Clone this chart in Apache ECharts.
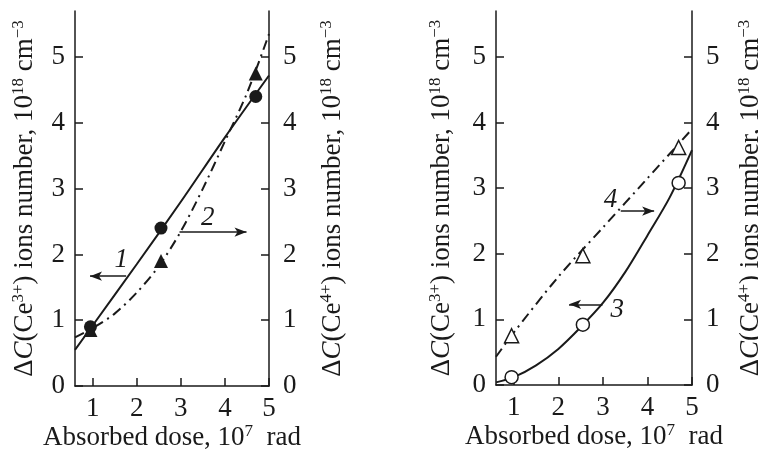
<!DOCTYPE html>
<html>
<head>
<meta charset="utf-8">
<script src="https://cdn.jsdelivr.net/npm/echarts@6/dist/echarts.min.js"></script>
<style>
  html, body { margin: 0; padding: 0; background: #fff; }
  #chart { width: 758px; height: 449px; }
</style>
</head>
<body>
<div id="chart"></div>
<script>
// measured points, [dose (10^7 rad), ions (10^18 cm^-3)]
var points1 = [[0.95, 0.9], [2.55, 2.4], [4.7, 4.4]];      // Ce3+, filled circles
var points2 = [[0.95, 0.85], [2.55, 1.9], [4.7, 4.75]];    // Ce4+, filled triangles
var points3 = [[0.95, 0.12], [2.55, 0.92], [4.7, 3.08]];   // Ce3+, open circles
var points4 = [[0.95, 0.75], [2.55, 1.97], [4.7, 3.62]];   // Ce4+, open triangles

// fitted curves
var curve1 = [[0.6, 0.55], [1, 0.92], [2, 1.85], [3, 2.8], [4, 3.78], [5, 4.72]];
var curve2 = [[0.6, 0.74], [1, 0.88], [1.5, 1.1], [2, 1.42], [2.5, 1.82], [3, 2.35],
              [3.5, 3.0], [4, 3.72], [4.5, 4.45], [5, 5.35]];
var curve3 = [[0.6, 0.04], [1, 0.12], [1.5, 0.3], [2, 0.55], [2.5, 0.88], [3, 1.25],
              [3.5, 1.72], [4, 2.28], [4.5, 2.86], [5, 3.58]];
var curve4 = [[0.6, 0.43], [1, 0.8], [2, 1.65], [3, 2.4], [4, 3.15], [5, 3.9]];

var xTicks = [1, 2, 3, 4, 5];
var yTicks = [0, 1, 2, 3, 4, 5];

// curve labels and their arrows: [label pos], [arrow from, arrow to]
var label1 = [1.65, 1.92], arrow1 = [[1.76, 1.67], [0.94, 1.67]];
var label2 = [3.61, 2.55], arrow2 = [[2.97, 2.34], [4.49, 2.34]];
var label3 = [3.32, 1.14], arrow3 = [[2.99, 1.23], [2.24, 1.23]];
var label4 = [3.17, 2.82], arrow4 = [[3.40, 2.65], [4.15, 2.65]];

var ink = '#1a1a1a';
var font = '"Liberation Serif", "Times New Roman", serif';

var richName = {
    d: { fontFamily: font, fontSize: 27, color: ink },
    i: { fontFamily: font, fontSize: 27, color: ink, fontStyle: 'italic' },
    s: { fontFamily: font, fontSize: 17, color: ink, padding: [0, 0, 12, 0] }
};
var name3 = '{d|Δ}{i|C}{d|(Ce}{s|3+}{d|) ions number, 10}{s|18}{d| cm}{s|−3}';
var name4 = '{d|Δ}{i|C}{d|(Ce}{s|4+}{d|) ions number, 10}{s|18}{d| cm}{s|−3}';
var nameX = '{d|Absorbed dose, 10}{s|7}{d|  rad}';

function xAxis(grid) {
    return {
        type: 'value', gridIndex: grid, min: 0.6, max: 5,
        name: nameX, nameLocation: 'middle', nameGap: 37, nameMoveOverlap: false,
        nameTextStyle: { rich: richName },
        axisLine: { lineStyle: { color: ink, width: 1.5 } },
        axisTick: { inside: true, length: 8, customValues: xTicks, lineStyle: { color: ink, width: 1.5 } },
        axisLabel: { customValues: xTicks, margin: 9, fontFamily: font, fontSize: 27, color: ink },
        splitLine: { show: false }
    };
}

function yAxis(grid, pos, name, gap) {
    return {
        type: 'value', gridIndex: grid, position: pos, min: 0, max: 5.7,
        name: name, nameLocation: 'middle', nameGap: gap, nameRotate: 90, nameMoveOverlap: false,
        nameTextStyle: { rich: richName },
        axisLine: { show: true, onZero: false, lineStyle: { color: ink, width: 1.5 } },
        axisTick: { show: true, inside: true, length: 8, customValues: yTicks, lineStyle: { color: ink, width: 1.5 } },
        axisLabel: { customValues: yTicks, margin: pos === 'left' ? 10 : 14, fontFamily: font, fontSize: 27, color: ink },
        splitLine: { show: false }
    };
}

function curve(data, grid, yIdx, dashed) {
    return {
        type: 'line', data: data, xAxisIndex: grid, yAxisIndex: yIdx,
        smooth: 0.3, symbol: 'none', silent: true, z: 2,
        lineStyle: { color: ink, width: 2, type: dashed ? [10, 5, 2, 5] : 'solid' }
    };
}

function marks(data, grid, yIdx, shape, filled) {
    return {
        type: 'scatter', data: data, xAxisIndex: grid, yAxisIndex: yIdx,
        symbol: shape, symbolSize: shape === 'circle' ? 13 : 14, z: 3,
        itemStyle: { color: filled ? ink : '#fff', borderColor: ink, borderWidth: filled ? 0 : 1.5, opacity: 1 }
    };
}

function note(text, pos, arrow, grid, yIdx) {
    return {
        type: 'line', data: [], xAxisIndex: grid, yAxisIndex: yIdx, silent: true,
        markPoint: {
            symbol: 'circle', symbolSize: 0,
            label: { show: true, formatter: text, fontFamily: font, fontSize: 27, fontStyle: 'italic', color: ink },
            data: [{ coord: pos }]
        },
        markLine: {
            symbol: ['none', 'arrow'], symbolSize: [7, 12],
            label: { show: false },
            lineStyle: { color: ink, width: 1.5, type: 'solid' },
            data: [[{ coord: arrow[0] }, { coord: arrow[1] }]]
        }
    };
}

var chart = echarts.init(document.getElementById('chart'), null, { renderer: 'canvas' });
chart.setOption({
    backgroundColor: '#fff',
    animation: false,
    grid: [
        { left: 75, right: 489, top: 11, bottom: 63, containLabel: false, outerBoundsMode: 'none' },
        { left: 496, right: 66, top: 11, bottom: 64, containLabel: false, outerBoundsMode: 'none' }
    ],
    xAxis: [xAxis(0), xAxis(1)],
    yAxis: [
        yAxis(0, 'left', name3, 36), yAxis(0, 'right', name4, 49),
        yAxis(1, 'left', name3, 40), yAxis(1, 'right', name4, 44)
    ],
    series: [
        curve(curve1, 0, 0, false),
        curve(curve2, 0, 1, true),
        marks(points1, 0, 0, 'circle', true),
        marks(points2, 0, 1, 'triangle', true),
        note('1', label1, arrow1, 0, 0),
        note('2', label2, arrow2, 0, 1),
        curve(curve3, 1, 2, false),
        curve(curve4, 1, 3, true),
        marks(points3, 1, 2, 'circle', false),
        marks(points4, 1, 3, 'triangle', false),
        note('3', label3, arrow3, 1, 2),
        note('4', label4, arrow4, 1, 3)
    ]
});
</script>
</body>
</html>
